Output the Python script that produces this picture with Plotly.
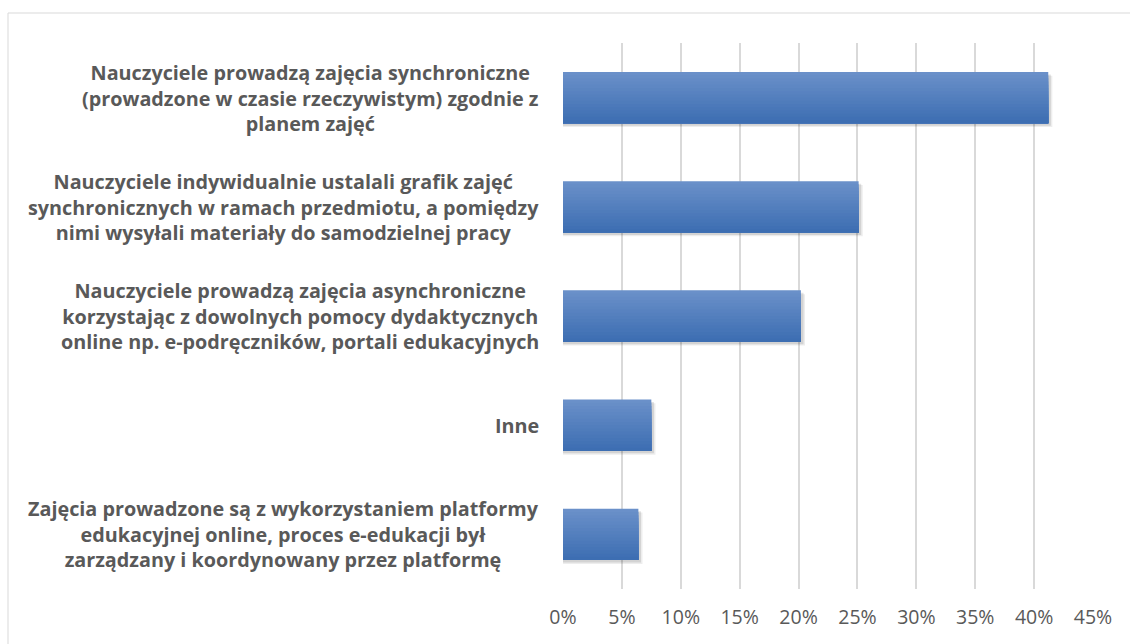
import plotly.graph_objects as go

categories = [
    "Nauczyciele prowadzą zajęcia synchroniczne<br>(prowadzone w czasie rzeczywistym) zgodnie z<br>planem zajęć",
    "Nauczyciele indywidualnie ustalali grafik zajęć<br>synchronicznych w ramach przedmiotu, a pomiędzy<br>nimi wysyłali materiały do samodzielnej pracy",
    "Nauczyciele prowadzą zajęcia asynchroniczne<br>korzystając z dowolnych pomocy dydaktycznych<br>online np. e-podręczników, portali edukacyjnych",
    "Inne",
    "Zajęcia prowadzone są z wykorzystaniem platformy<br>edukacyjnej online, proces e-edukacji był<br>zarządzany i koordynowany przez platformę",
]
values = [41.2, 25.1, 20.2, 7.5, 6.4]
tick_values = [0, 5, 10, 15, 20, 25, 30, 35, 40, 45]
tick_labels = ["0%", "5%", "10%", "15%", "20%", "25%", "30%", "35%", "40%", "45%"]

W, H = 1130, 644
L, R, T, B = 563, 37, 43, 55
bar_w = 0.47
n_stripes = 16
top_rgb = (106, 144, 201)
bot_rgb = (61, 110, 178)

fig = go.Figure()

# soft shadow
for k, (dx, a) in enumerate([(0.35, 0.07), (0.22, 0.11)]):
    fig.add_trace(go.Bar(
        y=categories, x=[v + dx for v in values], orientation="h",
        width=bar_w, offset=-bar_w / 2 + 0.035 - 0.012 * k,
        marker=dict(color=f"rgba(0,0,0,{a})", line=dict(width=0)),
        hoverinfo="skip", showlegend=False,
    ))

# vertical gradient: each stripe extends to bar bottom, later stripes overlay
sw = bar_w / n_stripes
for i in range(n_stripes):
    t = i / (n_stripes - 1)
    c = tuple(round(top_rgb[j] + (bot_rgb[j] - top_rgb[j]) * t) for j in range(3))
    fig.add_trace(go.Bar(
        y=categories, x=values, orientation="h",
        width=bar_w - i * sw, offset=-bar_w / 2 + i * sw,
        marker=dict(color=f"rgb{c}", line=dict(width=0)),
        hoverinfo="x" if i == 0 else "skip", showlegend=False,
    ))

annotations = []
for cat in categories:
    annotations.append(dict(
        x=(541 - L) / (W - L - R), xref="paper", xanchor="right",
        y=cat, yref="y", yanchor="middle",
        text=f"<b>{cat}</b>", showarrow=False, align="center",
        font=dict(family="Open Sans", size=19.8, color="#595959"),
    ))

pw = W - L - R
ph = H - T - B
fig.add_shape(type="rect", xref="paper", yref="paper",
              x0=(8 - L) / pw, x1=(W + 20 - L) / pw,
              y0=-(H + 20 - (H - B)) / ph, y1=1 + (T - 13) / ph,
              line=dict(color="#d9d9d9", width=1), fillcolor="rgba(0,0,0,0)", layer="below")

fig.update_layout(
    width=W, height=H,
    margin=dict(l=L, r=R, t=T, b=B),
    paper_bgcolor="white", plot_bgcolor="white",
    barmode="overlay",
    annotations=annotations,
    xaxis=dict(range=[0, 45], tickvals=tick_values, ticktext=tick_labels,
               showgrid=True, gridcolor="#d9d9d9", gridwidth=1.5,
               zeroline=False, showline=False, ticks="", ticklabelstandoff=14,
               tickfont=dict(family="Open Sans", size=19.5, color="#595959")),
    yaxis=dict(type="category", categoryorder="array", categoryarray=categories,
               autorange="reversed", showticklabels=False, showgrid=False,
               zeroline=False, showline=False, ticks=""),
    font=dict(family="Open Sans", color="#595959"),
)

fig.write_html("out.html", config={"displayModeBar": False},
               post_script="document.body.style.margin='0';")
